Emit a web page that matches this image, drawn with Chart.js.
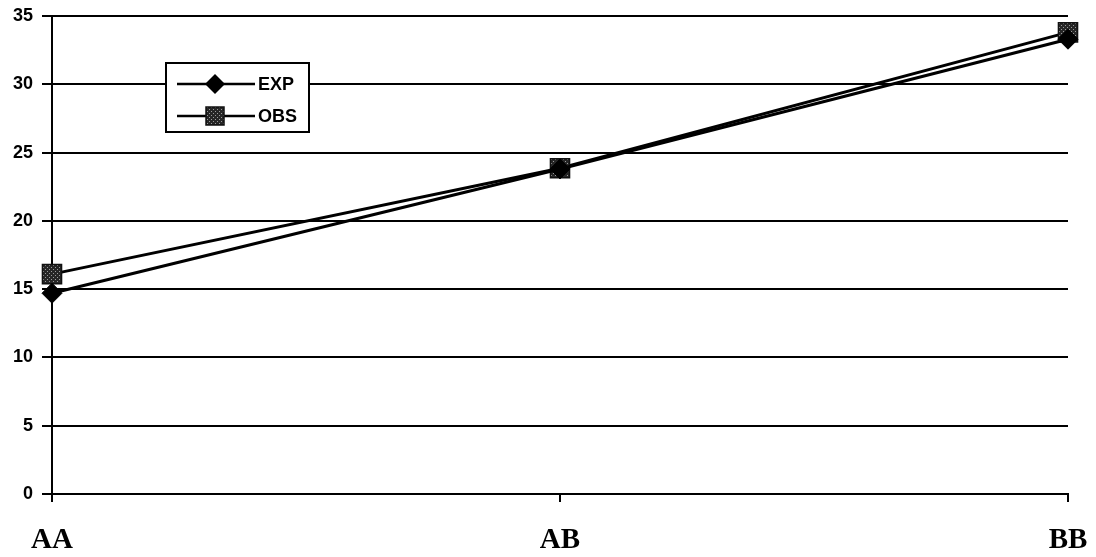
<!DOCTYPE html>
<html><head><meta charset="utf-8">
<script src="https://cdn.jsdelivr.net/npm/chart.js@4/dist/chart.umd.min.js"></script>
<style>html,body{margin:0;padding:0;background:#fff}#wrap{width:1096px;height:557px}</style>
</head><body><div id="wrap"><canvas id="c" width="1096" height="557"></canvas></div>
<script>
const categories = ['AA', 'AB', 'BB'];
const expValues = [14.7, 23.8, 33.3];
const obsValues = [16.1, 23.85, 33.8];
const seriesNames = ['EXP', 'OBS'];
const yTickValues = [0, 5, 10, 15, 20, 25, 30, 35];

const canvas = document.getElementById('c');
const mainCtx = canvas.getContext('2d');

function makePattern() {
  const p = document.createElement('canvas');
  p.width = 4; p.height = 4;
  const g = p.getContext('2d');
  g.fillStyle = '#262626'; g.fillRect(0, 0, 4, 4);
  g.fillStyle = '#9a9a9a'; g.fillRect(1, 1, 1, 1); g.fillRect(3, 3, 1, 1);
  return mainCtx.createPattern(p, 'repeat');
}
const obsFill = makePattern();

const legendPlugin = {
  id: 'boxLegend',
  afterDraw(chart) {
    const ctx = chart.ctx;
    const x0 = 166, y0 = 63, w = 143, h = 69;
    ctx.save();
    ctx.fillStyle = '#fff';
    ctx.fillRect(x0, y0, w, h);
    ctx.strokeStyle = '#000';
    ctx.lineWidth = 2;
    ctx.strokeRect(x0, y0, w, h);
    const rows = [84, 116];
    chart.data.datasets.forEach((ds, i) => {
      const y = rows[i];
      ctx.beginPath();
      ctx.moveTo(177, y); ctx.lineTo(255, y);
      ctx.lineWidth = 2.5; ctx.strokeStyle = '#000'; ctx.stroke();
      const mx = 215;
      if (i === 0) {
        ctx.beginPath();
        ctx.moveTo(mx, y - 10); ctx.lineTo(mx + 10, y); ctx.lineTo(mx, y + 10); ctx.lineTo(mx - 10, y); ctx.closePath();
        ctx.fillStyle = '#000'; ctx.fill();
      } else {
        ctx.fillStyle = obsFill;
        ctx.fillRect(mx - 9, y - 9, 18, 18);
        ctx.lineWidth = 1.5; ctx.strokeStyle = '#111';
        ctx.strokeRect(mx - 9, y - 9, 18, 18);
      }
      ctx.fillStyle = '#000';
      ctx.font = 'bold 18px "Liberation Sans", Arial, sans-serif';
      ctx.textBaseline = 'middle';
      ctx.textAlign = 'left';
      ctx.fillText(ds.label, 258, y + 1);
    });
    ctx.restore();
  }
};

new Chart(canvas, {
  type: 'line',
  data: {
    labels: categories,
    datasets: [
      {
        label: seriesNames[0], data: expValues,
        borderColor: '#000', borderWidth: 3, tension: 0,
        pointStyle: 'rectRot', pointRadius: 10, pointBackgroundColor: '#000', pointBorderColor: '#000', pointBorderWidth: 1
      },
      {
        label: seriesNames[1], data: obsValues,
        borderColor: '#000', borderWidth: 3, tension: 0,
        pointStyle: 'rect', pointRadius: 13.5, pointBackgroundColor: obsFill, pointBorderColor: '#111', pointBorderWidth: 1.5
      }
    ]
  },
  options: {
    responsive: false,
    animation: false,
    devicePixelRatio: 1,
    layout: { padding: { top: 16, right: 28, left: 0, bottom: 0 } },
    plugins: { legend: { display: false }, tooltip: { enabled: false } },
    scales: {
      x: {
        type: 'category',
        offset: false,
        grid: { drawOnChartArea: false, drawTicks: true, tickLength: 8, color: '#000', lineWidth: 2 },
        border: { color: '#000', width: 2 },
        ticks: {
          color: '#000', padding: 21, maxRotation: 0, autoSkip: false,
          font: { family: '"Liberation Serif", "Times New Roman", serif', size: 29, weight: 'bold' }
        },
        afterFit(s) { s.height = 63; s.paddingLeft = 0; s.paddingRight = 0; }
      },
      y: {
        min: 0, max: 35,
        afterBuildTicks(s) { s.ticks = yTickValues.map(v => ({ value: v })); },
        grid: { color: '#000', lineWidth: 2, tickLength: 10 },
        border: { color: '#000', width: 2 },
        ticks: {
          color: '#000', padding: 9,
          font: { family: '"Liberation Sans", Arial, sans-serif', size: 18, weight: 'bold' }
        },
        afterFit(s) { s.width = 52; s.paddingTop = 0; s.paddingBottom = 0; }
      }
    }
  },
  plugins: [legendPlugin]
});
</script>
</body></html>
